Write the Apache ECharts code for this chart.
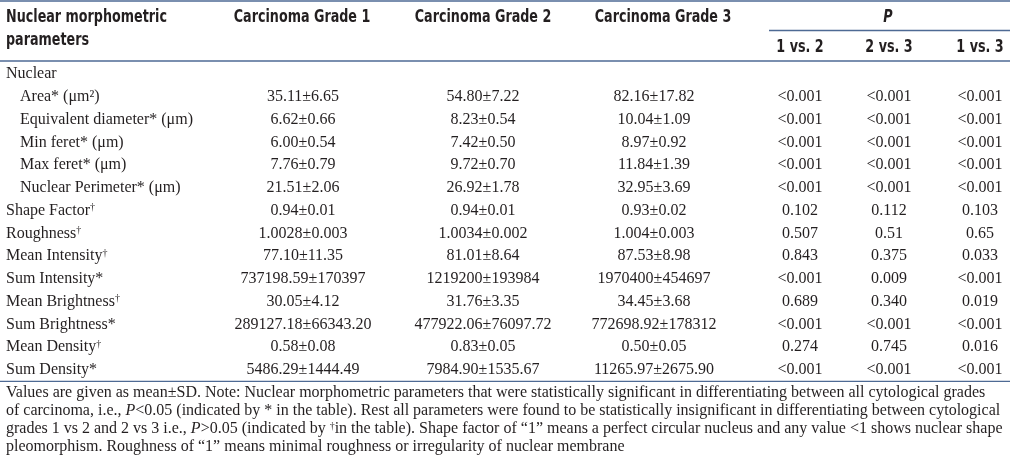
<!DOCTYPE html>
<html><head><meta charset="utf-8">
<script src="https://cdn.jsdelivr.net/npm/echarts@6/dist/echarts.min.js"></script>
<style>html,body{margin:0;padding:0;background:#fff}#c{width:1010px;height:460px}</style>
</head><body><div id="c"></div>
<script>
// ---- data ----
const rowNames = ['Nuclear','Area* (μm²)','Equivalent diameter* (μm)','Min feret* (μm)','Max feret* (μm)','Nuclear Perimeter* (μm)','Shape Factor{d|†}','Roughness{d|†}','Mean Intensity{d|†}','Sum Intensity*','Mean Brightness{d|†}','Sum Brightness*','Mean Density{d|†}','Sum Density*'];
const rowIndent = [0,1,1,1,1,1,0,0,0,0,0,0,0,0];
const grade1 = ['','35.11±6.65','6.62±0.66','6.00±0.54','7.76±0.79','21.51±2.06','0.94±0.01','1.0028±0.003','77.10±11.35','737198.59±170397','30.05±4.12','289127.18±66343.20','0.58±0.08','5486.29±1444.49'];
const grade2 = ['','54.80±7.22','8.23±0.54','7.42±0.50','9.72±0.70','26.92±1.78','0.94±0.01','1.0034±0.002','81.01±8.64','1219200±193984','31.76±3.35','477922.06±76097.72','0.83±0.05','7984.90±1535.67'];
const grade3 = ['','82.16±17.82','10.04±1.09','8.97±0.92','11.84±1.39','32.95±3.69','0.93±0.02','1.004±0.003','87.53±8.98','1970400±454697','34.45±3.68','772698.92±178312','0.50±0.05','11265.97±2675.90'];
const p12 = ['','<0.001','<0.001','<0.001','<0.001','<0.001','0.102','0.507','0.843','<0.001','0.689','<0.001','0.274','<0.001'];
const p23 = ['','<0.001','<0.001','<0.001','<0.001','<0.001','0.112','0.51','0.375','0.009','0.340','<0.001','0.745','<0.001'];
const p13 = ['','<0.001','<0.001','<0.001','<0.001','<0.001','0.103','0.65','0.033','<0.001','0.019','<0.001','0.016','<0.001'];
const headerMain = ['Carcinoma Grade 1','Carcinoma Grade 2','Carcinoma Grade 3'];
const headerSub = ['1 vs. 2','2 vs. 3','1 vs. 3'];
const footnote = [
  'Values are given as mean±SD. Note: Nuclear morphometric parameters that were statistically significant in differentiating between all cytological grades',
  'of carcinoma, i.e., {i|P}<0.05 (indicated by * in the table). Rest all parameters were found to be statistically insignificant in differentiating between cytological',
  'grades 1 vs 2 and 2 vs 3 i.e., {i|P}>0.05 (indicated by {d|†}in the table). Shape factor of “1” means a perfect circular nucleus and any value <1 shows nuclear shape',
  'pleomorphism. Roughness of “1” means minimal roughness or irregularity of nuclear membrane'
];

// ---- layout ----
const columns = [rowNames, grade1, grade2, grade3, p12, p23, p13];
const colX = [6, 303, 483, 654, 800, 889, 980];
const headX = [302, 483, 663];
const subX = [800, 889, 980];
const serif = "'Liberation Serif','Times New Roman',serif";
const sans = "'Liberation Sans Narrow','DejaVu Sans Condensed','Roboto Condensed','Liberation Sans',sans-serif";
const txt = '#231f20';
const rule = '#4e6a94';
const richSup = { d: { fontSize: 10, fontFamily: serif, fill: txt, verticalAlign: 'top', lineHeight: 14 }, i: { fontStyle: 'italic', fontSize: 16, fontFamily: serif, fill: txt } };

const cells = [];
for (let r = 0; r < rowNames.length; r++) for (let c = 0; c < columns.length; c++) cells.push([c, r]);

const chart = echarts.init(document.getElementById('c'), null, { renderer: 'canvas' });
const gridTop = 62.6, gridH = 318.8;
const graphics = [];
// rules
[[1, 0, 1010], [61, 0, 1010], [30.5, 769, 1010], [381.4, 0, 1010]].forEach(([y, x1, x2]) => {
  graphics.push({ type: 'line', shape: { x1, y1: y, x2, y2: y }, style: { stroke: rule, lineWidth: 1.3 } });
});
const hsx = 0.765;
function head(text, x, y, align, italic) {
  graphics.push({ type: 'text', x: x, y: y, scaleX: hsx, style: { text: text, x: 0, y: 0, align: align, verticalAlign: 'middle', fontFamily: sans, fontWeight: 'bold', fontStyle: italic ? 'italic' : 'normal', fontSize: 18.5, fill: txt } });
}
head('Nuclear morphometric', 6, 17, 'left');
head('parameters', 6, 40, 'left');
headerMain.forEach((t, i) => head(t, headX[i], 17, 'center'));
head('P', 888, 17, 'center', true);
headerSub.forEach((t, i) => head(t, subX[i], 47, 'center'));
footnote.forEach((t, i) => graphics.push({ type: 'text', style: { text: t, x: 6, y: 393 + i * 18, verticalAlign: 'middle', fontFamily: serif, fontSize: 16, fill: txt, rich: richSup } }));

chart.setOption({
  animation: false,
  grid: { left: 0, right: 0, top: gridTop, height: gridH },
  xAxis: { type: 'value', min: 0, max: 1010, show: false },
  yAxis: { type: 'category', data: rowNames, inverse: true, show: false },
  graphic: graphics,
  series: [{
    type: 'custom',
    data: cells,
    renderItem: function (params, api) {
      const c = api.value(0), r = api.value(1);
      const x = colX[c] + (c === 0 && rowIndent[r] ? 14 : 0);
      const p = api.coord([x, r]);
      return { type: 'text', style: { text: columns[c][r], x: p[0], y: p[1], align: c === 0 ? 'left' : 'center', verticalAlign: 'middle', fontFamily: serif, fontSize: 16, fill: txt, rich: richSup } };
    }
  }]
});
</script></body></html>
